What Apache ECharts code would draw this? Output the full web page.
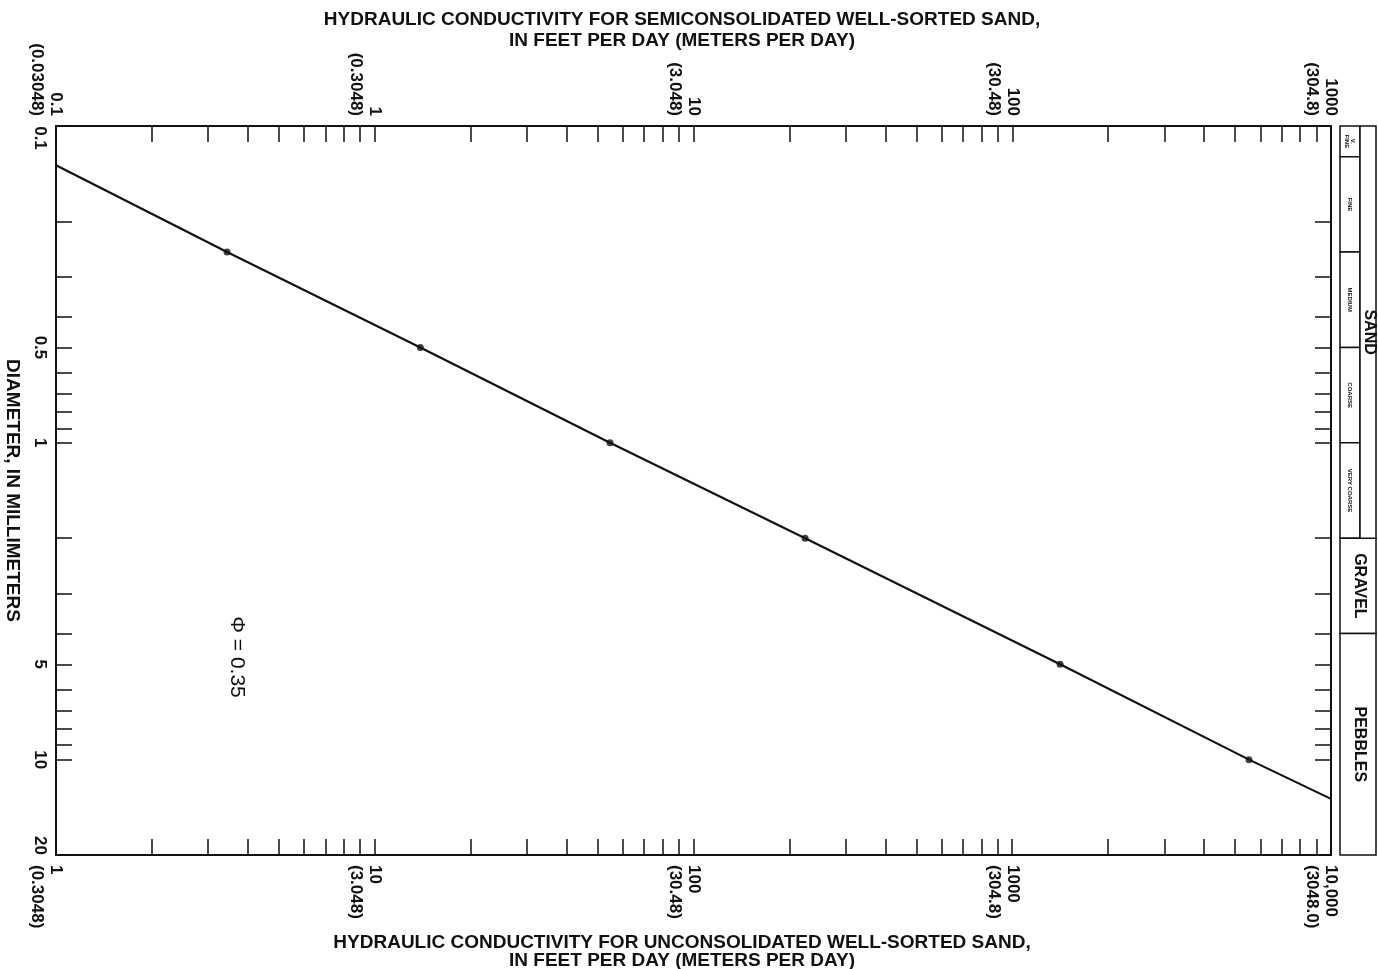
<!DOCTYPE html>
<html>
<head>
<meta charset="utf-8">
<script src="https://cdn.jsdelivr.net/npm/echarts@6/dist/echarts.min.js"></script>
<style>
html, body { margin: 0; padding: 0; background: #ffffff; }
#chart { width: 1378px; height: 969px; }
</style>
</head>
<body>
<div id="chart"></div>
<script>
// ---------------- data ----------------
const conductivityFtPerDay = [1, 3.44, 13.9, 54.7, 224, 1413, 5531, 10000];
const diameterMm = [0.133, 0.25, 0.5, 1, 2, 5, 10, 13.3];
const isPlottedPoint = [false, true, true, true, true, true, true, false];

const bottomLabelValues = [1, 10, 100, 1000, 10000];
const bottomLabelFeet = ['1', '10', '100', '1000', '10,000'];
const bottomLabelMeters = ['(0.3048)', '(3.048)', '(30.48)', '(304.8)', '(3048.0)'];

const topLabelValues = [0.1, 1, 10, 100, 1000];
const topLabelFeet = ['0.1', '1', '10', '100', '1000'];
const topLabelMeters = ['(0.03048)', '(0.3048)', '(3.048)', '(30.48)', '(304.8)'];

const bottomTickValues = [1, 2, 3, 4, 5, 6, 7, 8, 9, 10, 20, 30, 40, 50, 60, 70, 80, 90,
  100, 200, 300, 400, 500, 600, 700, 800, 900, 1000, 2000, 3000, 4000, 5000, 6000, 7000, 8000, 9000, 10000];
const topTickValues = [0.1, 0.2, 0.3, 0.4, 0.5, 0.6, 0.7, 0.8, 0.9, 1, 2, 3, 4, 5, 6, 7, 8, 9,
  10, 20, 30, 40, 50, 60, 70, 80, 90, 100, 200, 300, 400, 500, 600, 700, 800, 900, 1000];

const diameterTickValues = [0.1, 0.2, 0.3, 0.4, 0.5, 0.6, 0.7, 0.8, 0.9, 1, 2, 3, 4, 5, 6, 7, 8, 9, 10, 20];
const diameterLabelValues = [0.1, 0.5, 1, 5, 10, 20];
const diameterLabels = ['0.1', '0.5', '1', '5', '10', '20'];

const grainClassNames = ['V.\nFINE', 'FINE', 'MEDIUM', 'COARSE', 'VERY COARSE', 'GRAVEL', 'PEBBLES'];
const grainLowerMm = [0.1, 0.125, 0.25, 0.5, 1, 2, 4];
const grainUpperMm = [0.125, 0.25, 0.5, 1, 2, 4, 20];
const grainGroup = ['SAND', 'SAND', 'SAND', 'SAND', 'SAND', 'GRAVEL', 'PEBBLES'];
const sandGroupName = 'SAND';
const sandRangeMm = [0.1, 2];

const porosityNote = 'Φ = 0.35';
const topTitle = 'HYDRAULIC CONDUCTIVITY FOR SEMICONSOLIDATED WELL-SORTED SAND,\nIN FEET PER DAY (METERS PER DAY)';
const bottomTitle = 'HYDRAULIC CONDUCTIVITY FOR UNCONSOLIDATED WELL-SORTED SAND,\nIN FEET PER DAY (METERS PER DAY)';
const yAxisTitle = 'DIAMETER, IN MILLIMETERS';

// ---------------- build ----------------
const FONT = '"Liberation Sans", Arial, Helvetica, sans-serif';
const INK = '#111111';

function findIdx(values, v) {
  return values.findIndex(function (t) { return Math.abs(Math.log10(t) - Math.log10(v)) < 1e-6; });
}

const curveData = conductivityFtPerDay.map(function (k, i) { return [k, diameterMm[i]]; });
const pointData = curveData.filter(function (p, i) { return isPlottedPoint[i]; });

const stripItems = [];
grainClassNames.forEach(function (name, i) {
  stripItems.push({ lower: grainLowerMm[i], upper: grainUpperMm[i], label: name,
    kind: grainGroup[i] === sandGroupName ? 'sub' : 'main' });
});
stripItems.push({ lower: sandRangeMm[0], upper: sandRangeMm[1], label: sandGroupName, kind: 'group' });

function renderStrip(params, api) {
  const it = stripItems[params.dataIndex];
  const x0 = it.kind === 'group' ? 20 : 0;
  const x1 = it.kind === 'sub' ? 20 : 36;
  const p0 = api.coord([x0, api.value(0)]);
  const p1 = api.coord([x1, api.value(1)]);
  const cx = (p0[0] + p1[0]) / 2;
  const cy = (p0[1] + p1[1]) / 2;
  const font = it.kind === 'sub' ? 'bold 6px ' + FONT : 'bold 16px ' + FONT;
  return {
    type: 'group',
    children: [
      { type: 'rect', shape: { x: p0[0], y: p0[1], width: p1[0] - p0[0], height: p1[1] - p0[1] },
        style: { fill: '#ffffff', stroke: INK, lineWidth: 1.5 } },
      { type: 'text', x: cx + (it.kind === 'sub' ? 0 : 1), y: cy, rotation: -Math.PI / 2,
        style: { text: it.label, font: font, fill: INK, align: 'center', verticalAlign: 'middle', lineHeight: 6 } }
    ]
  };
}

const labelStyle = {
  color: INK, fontFamily: FONT, fontWeight: 'bold', fontSize: 17, lineHeight: 19
};

const chart = echarts.init(document.getElementById('chart'), null, { renderer: 'canvas' });

chart.setOption({
  animation: false,
  backgroundColor: '#ffffff',
  title: [
    { text: topTitle, left: 677, top: 4, textAlign: 'center',
      textStyle: { fontFamily: FONT, fontWeight: 'bold', fontSize: 19, lineHeight: 21, color: INK } },
    { text: bottomTitle, left: 677, top: 929, textAlign: 'center',
      textStyle: { fontFamily: FONT, fontWeight: 'bold', fontSize: 19, lineHeight: 18, color: INK } }
  ],
  grid: [
    { left: 56, right: 47, top: 126, bottom: 114, containLabel: false, outerBoundsMode: 'none' },
    { left: 1340, width: 36, top: 126, bottom: 114, containLabel: false, outerBoundsMode: 'none' }
  ],
  xAxis: [
    {
      type: 'log', gridIndex: 0, position: 'bottom', min: 1, max: 10000, logBase: 10,
      axisLine: { show: true, onZero: false, lineStyle: { color: INK, width: 2 } },
      axisTick: { show: true, inside: true, length: 16, customValues: bottomTickValues,
        lineStyle: { color: INK, width: 1.5 } },
      axisLabel: Object.assign({}, labelStyle, {
        customValues: bottomLabelValues, rotate: -90, margin: 10,
        formatter: function (v) {
          const i = findIdx(bottomLabelValues, v);
          return i < 0 ? '' : '\n' + bottomLabelFeet[i] + '\n' + bottomLabelMeters[i];
        }
      }),
      splitLine: { show: false }
    },
    {
      type: 'log', gridIndex: 0, position: 'top', min: 0.1, max: 1000, logBase: 10,
      axisLine: { show: true, onZero: false, lineStyle: { color: INK, width: 2 } },
      axisTick: { show: true, inside: true, length: 16, customValues: topTickValues,
        lineStyle: { color: INK, width: 1.5 } },
      axisLabel: Object.assign({}, labelStyle, {
        customValues: topLabelValues, rotate: 90, margin: 10,
        formatter: function (v) {
          const i = findIdx(topLabelValues, v);
          return i < 0 ? '' : '\n' + topLabelFeet[i] + '\n' + topLabelMeters[i];
        }
      }),
      splitLine: { show: false }
    },
    { type: 'value', gridIndex: 1, min: 0, max: 36, show: false }
  ],
  yAxis: [
    {
      type: 'log', gridIndex: 0, position: 'left', min: 0.1, max: 20, inverse: true, logBase: 10,
      name: yAxisTitle, nameLocation: 'middle', nameRotate: -90, nameGap: 24,
      nameTextStyle: { fontFamily: FONT, fontWeight: 'bold', fontSize: 19, color: INK },
      axisLine: { show: true, onZero: false, lineStyle: { color: INK, width: 2 } },
      axisTick: { show: true, inside: true, length: 16, customValues: diameterTickValues,
        lineStyle: { color: INK, width: 1.5 } },
      axisLabel: Object.assign({}, labelStyle, {
        customValues: diameterLabelValues, rotate: -90, margin: 7,
        formatter: function (v) {
          const i = findIdx(diameterLabelValues, v);
          if (i < 0) return '';
          if (i === 0) return '{first|' + diameterLabels[i] + '}';
          if (i === diameterLabels.length - 1) return '{last|' + diameterLabels[i] + '}';
          return diameterLabels[i];
        },
        rich: {
          first: { fontFamily: FONT, fontWeight: 'bold', fontSize: 17, color: INK, padding: [0, 0, 0, 24] },
          last: { fontFamily: FONT, fontWeight: 'bold', fontSize: 17, color: INK, padding: [0, 19, 0, 0] }
        }
      }),
      splitLine: { show: false }
    },
    {
      type: 'log', gridIndex: 0, position: 'right', min: 0.1, max: 20, inverse: true, logBase: 10,
      axisLine: { show: true, onZero: false, lineStyle: { color: INK, width: 2 } },
      axisTick: { show: true, inside: true, length: 16, customValues: diameterTickValues,
        lineStyle: { color: INK, width: 1.5 } },
      axisLabel: { show: false },
      splitLine: { show: false }
    },
    { type: 'log', gridIndex: 1, min: 0.1, max: 20, inverse: true, logBase: 10, show: false }
  ],
  series: [
    {
      type: 'line', xAxisIndex: 0, yAxisIndex: 0, data: curveData,
      showSymbol: false, symbol: 'none', smooth: false,
      lineStyle: { color: INK, width: 2.2 }, z: 3, silent: true
    },
    {
      type: 'scatter', xAxisIndex: 0, yAxisIndex: 0, data: pointData,
      symbol: 'circle', symbolSize: 7, itemStyle: { color: INK }, z: 4, silent: true
    },
    {
      type: 'custom', xAxisIndex: 2, yAxisIndex: 2,
      data: stripItems.map(function (s) { return [s.lower, s.upper]; }),
      encode: { x: -1, y: [0, 1] },
      renderItem: renderStrip, silent: true, clip: false
    }
  ],
  graphic: [
    { type: 'text', x: 237, y: 657, rotation: -Math.PI / 2,
      style: { text: porosityNote, font: '500 21px ' + FONT, fill: INK, align: 'center', verticalAlign: 'middle' } }
  ]
});
</script>
</body>
</html>
